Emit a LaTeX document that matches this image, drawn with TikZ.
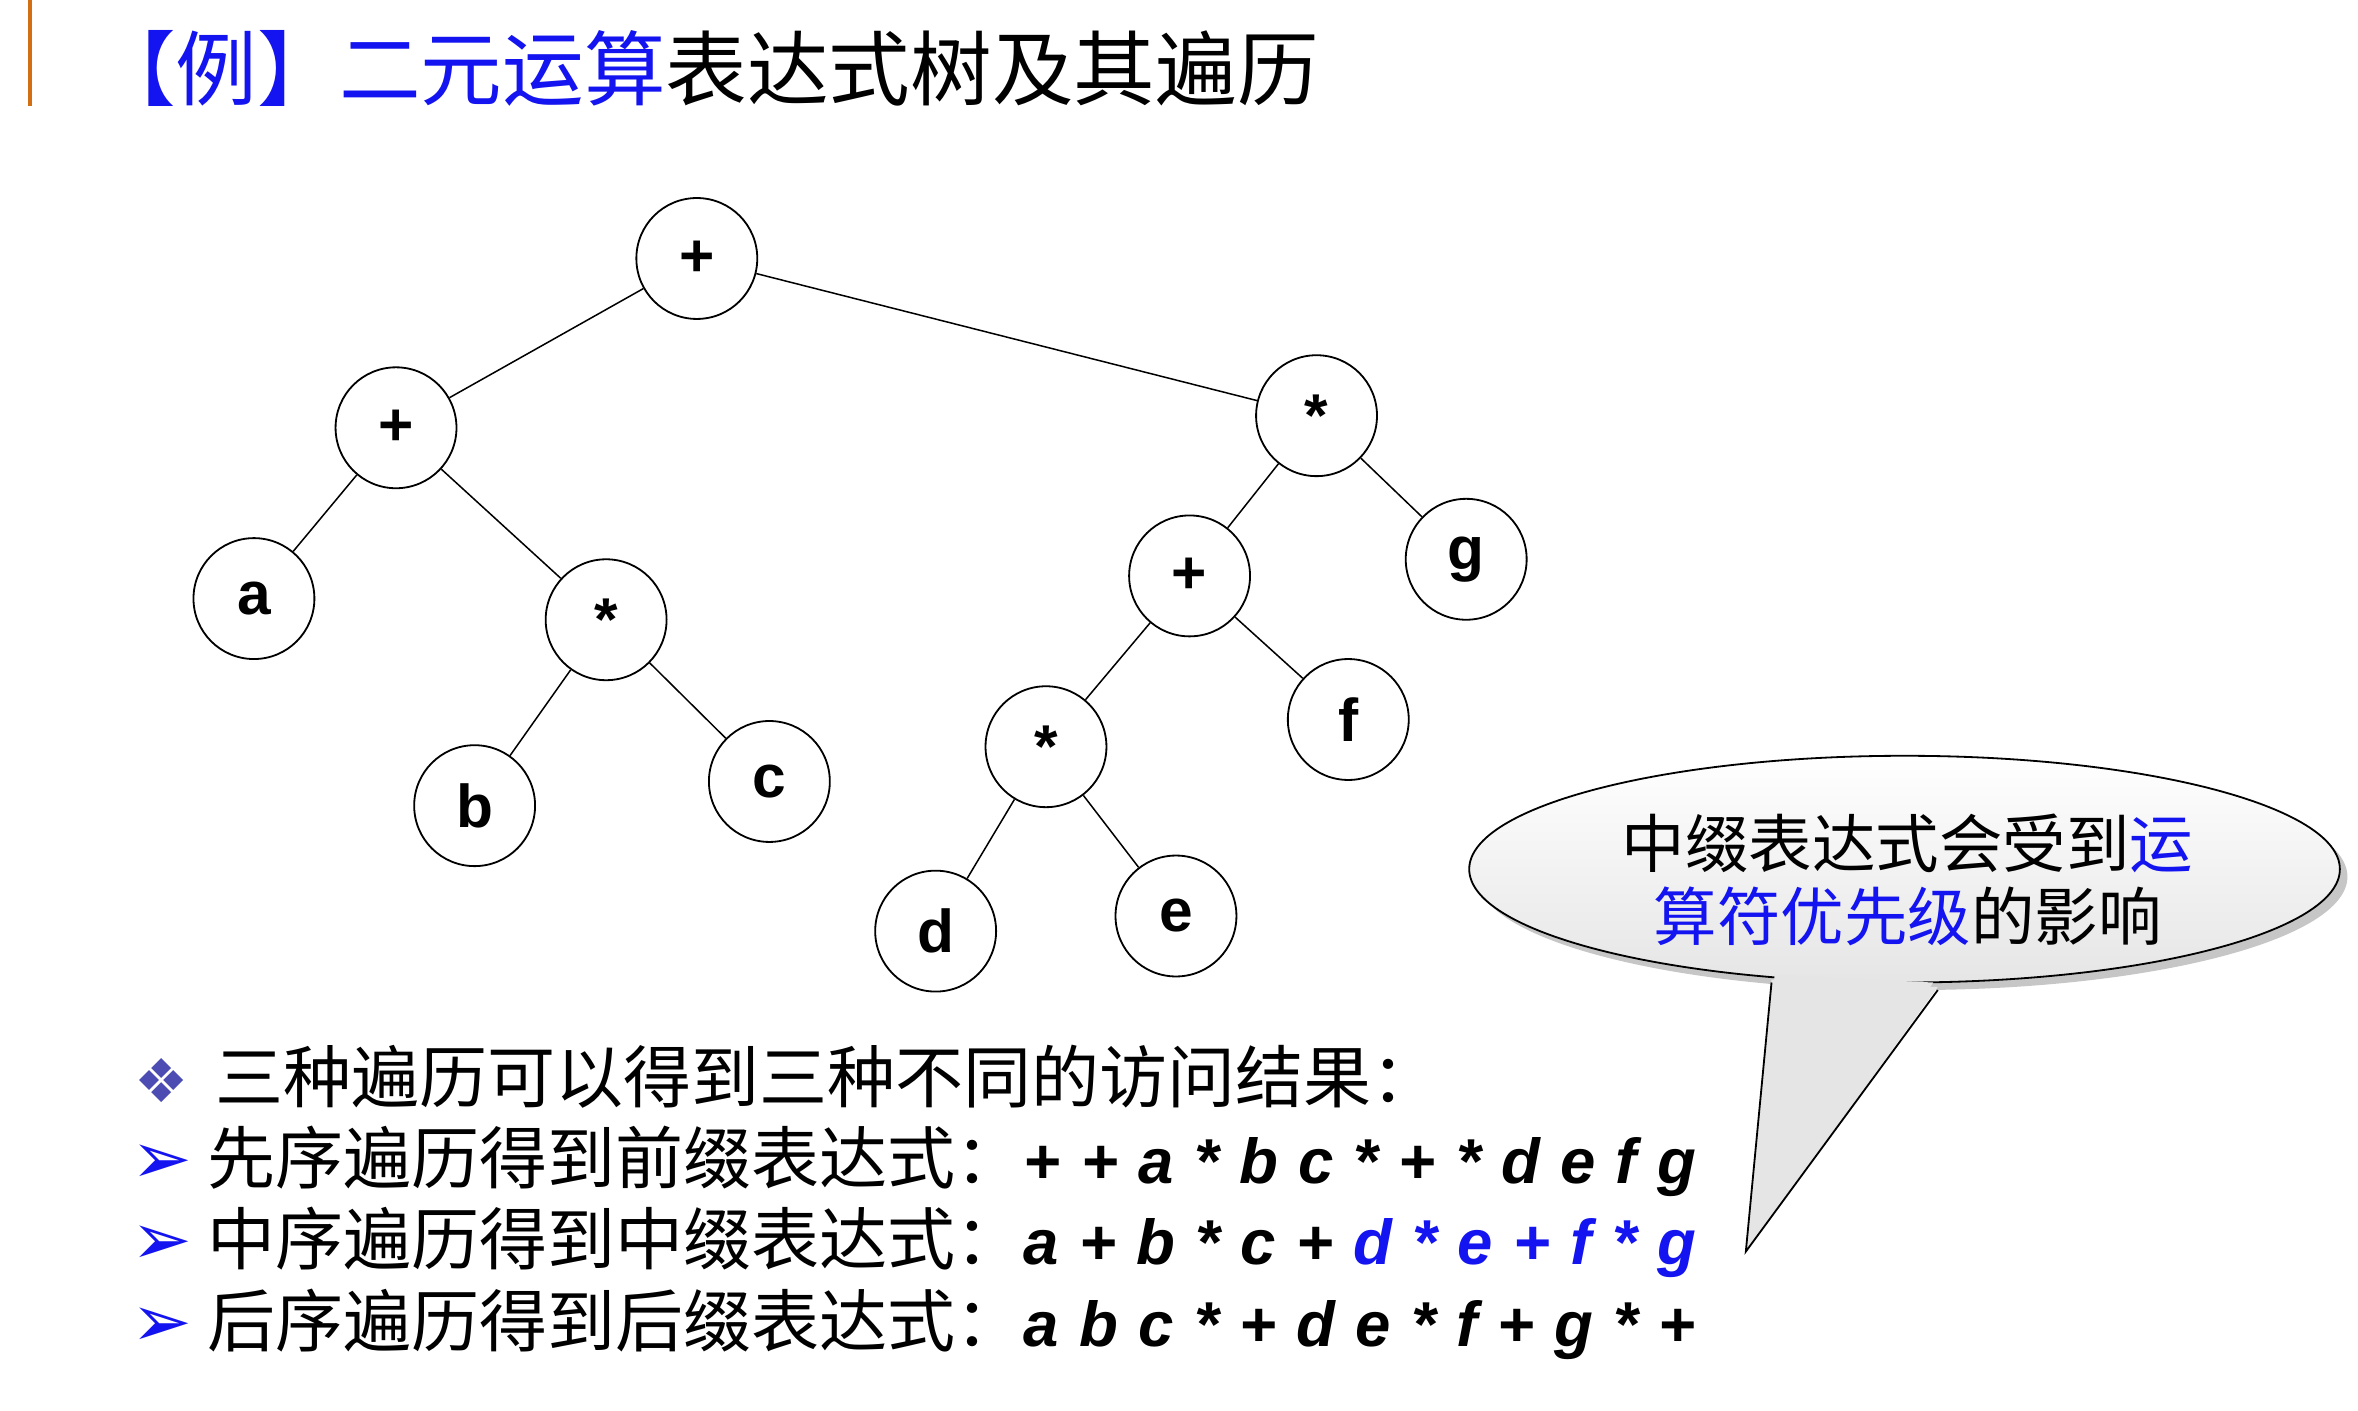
\documentclass[tikz,border=0pt]{standalone}
\usepackage{fontspec}
\setmainfont{Liberation Sans}
\newfontfamily\cjk{Noto Sans CJK SC}
\newfontfamily\sym{DejaVu Sans}
\newfontfamily\expr[WordSpace=1.15]{Liberation Sans}
\usetikzlibrary{shapes.geometric,shadows}
\definecolor{myblue}{RGB}{20,20,240}
\definecolor{myorange}{RGB}{210,110,20}
\begin{document}
\begin{tikzpicture}[x=0.5pt,y=-0.5pt,
 tn/.style={circle,draw,line width=0.6pt,minimum size=40pt,inner sep=0pt,font=\fontsize{20}{20}\selectfont\bfseries},
 ed/.style={line width=0.5pt},
 ln/.style={anchor=west,font=\cjk\fontsize{22.5}{23}\selectfont}]
\useasboundingbox (0,0) rectangle (1560,933);
\draw[myorange,line width=1.5pt] (20,0) -- (20,70);
\node[anchor=west,font=\cjk\fontsize{27}{27}\selectfont,inner sep=0pt] (title) at (62,45) {\textcolor{myblue}{【例】二元运算}表达式树及其遍历};
\node[tn] (r) at (461,171) {+};
\node[tn] (p1) at (262,283) {+};
\node[tn] (a) at (168,396) {a};
\node[tn] (m1) at (401,410) {*};
\node[tn] (b) at (314,533) {b};
\node[tn] (c) at (509,517) {c};
\node[tn] (m2) at (871,275) {*};
\node[tn] (g) at (970,370) {g};
\node[tn] (p2) at (787,381) {+};
\node[tn] (f) at (892,476) {f};
\node[tn] (m3) at (692,494) {*};
\node[tn] (d) at (619,616) {d};
\node[tn] (e) at (778,606) {e};
\foreach \u/\v in {r/p1,r/m2,p1/a,p1/m1,m1/b,m1/c,m2/p2,m2/g,p2/m3,p2/f,m3/d,m3/e}
  \draw[ed] (\u) -- (\v);
% callout
\fill[gray!45] (1265,580) ellipse (288 and 75);
\shade[top color=white,bottom color=gray!20] (1260,575) ellipse (288 and 75);
\fill[gray!20] (1172,648) -- (1155,828) -- (1282,653) -- cycle;
\draw[line width=0.6pt] (1260,575) ellipse (288 and 75);
\fill[gray!20] (1174,645) -- (1160,815) -- (1279,650) -- cycle;
\draw[line width=0.6pt] (1172,650) -- (1155,828) -- (1282,655);
\node[font=\cjk\fontsize{21}{24}\selectfont,align=center] (ct) at (1262,582) {中缀表达式会受到\textcolor{myblue}{运}\\\textcolor{myblue}{算符优先级}的影响};
% list
\node[ln] (l0) at (82,712) {\textcolor{gray!60!blue}{\sym\fontsize{20}{20}\selectfont ❖}\, 三种遍历可以得到三种不同的访问结果：};
\node[ln] (l1) at (80,768) {\textcolor{myblue}{\sym\fontsize{24}{24}\selectfont ➢} 先序遍历得到前缀表达式：\textbf{\textit{\expr\fontsize{21}{21}\selectfont + + a * b c * + * d e f g}}};
\node[ln] (l2) at (80,822) {\textcolor{myblue}{\sym\fontsize{24}{24}\selectfont ➢} 中序遍历得到中缀表达式：\textbf{\textit{\expr\fontsize{21}{21}\selectfont a + b * c + \textcolor{myblue}{d * e + f * g}}}};
\node[ln] (l3) at (80,876) {\textcolor{myblue}{\sym\fontsize{24}{24}\selectfont ➢} 后序遍历得到后缀表达式：\textbf{\textit{\expr\fontsize{21}{21}\selectfont a b c * + d e * f + g * +}}};
\end{tikzpicture}
\end{document}
